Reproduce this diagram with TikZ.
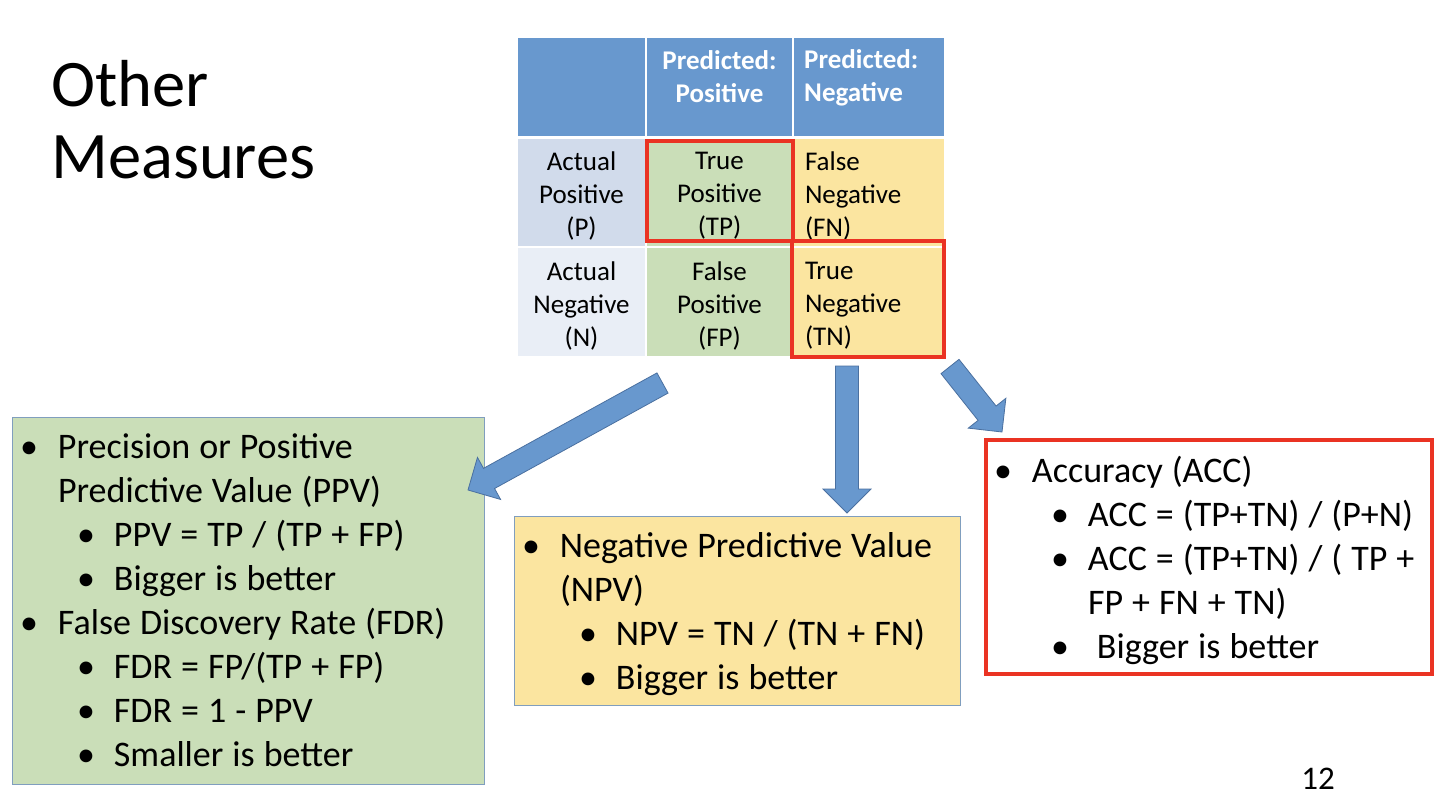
\documentclass[tikz,border=0pt]{standalone}
\usepackage{fontspec}
\setmainfont{Carlito}
\usetikzlibrary{calc}

\definecolor{hdrblue}{RGB}{104,152,206}
\definecolor{aposfill}{RGB}{209,219,235}
\definecolor{anegfill}{RGB}{233,238,246}
\definecolor{cellgreen}{RGB}{202,222,184}
\definecolor{cellyellow}{RGB}{251,229,160}
\definecolor{hired}{RGB}{234,51,35}
\definecolor{boxedge}{RGB}{128,158,190}
\definecolor{arrowedge}{RGB}{74,112,160}

\tikzset{
  hcell/.style={fill=hdrblue, inner sep=0pt, minimum height=98pt},
  htext/.style={text=white, inner sep=0pt, font=\bfseries\fontsize{27}{33}\selectfont},
  cell/.style={inner sep=0pt},
  celltext/.style={inner sep=0pt, font=\fontsize{27}{33}\selectfont},
  hilite/.style={draw=hired, line width=3.5pt},
  listbox/.style={draw=boxedge, line width=1pt, inner sep=0pt},
  listtext/.style={inner xsep=12pt, inner ysep=0pt, font=\fontsize{36}{44}\selectfont},
  arrowfill/.style={fill=hdrblue, draw=arrowedge, line width=0.8pt, line join=miter}
}

% bullet levels
\newcommand\lvla{\par\spaceskip=9pt plus 1pt minus 1pt\relax
  \hangindent=34pt\hangafter=1\noindent\hspace*{5pt}\makebox[0pt]{\textbullet}\hspace*{29pt}\ignorespaces}
\newcommand\lvlb{\par\spaceskip=9pt plus 1pt minus 1pt\relax
  \hangindent=90pt\hangafter=1\noindent\hspace*{62pt}\makebox[0pt]{\textbullet}\hspace*{28pt}\ignorespaces}

% block arrow from tail to tip
\newcommand\blockarrow[2]{%
  \coordinate (#1-hb) at ($(#2)!24pt!(#1)$);
  \filldraw[arrowfill] ($(#1)!11.5pt!90:(#2)$) -- ($(#1-hb)!11.5pt!90:(#2)$)
    -- ($(#1-hb)!24pt!90:(#2)$) -- (#2) -- ($(#1-hb)!24pt!-90:(#2)$)
    -- ($(#1-hb)!11.5pt!-90:(#2)$) -- ($(#1)!11.5pt!-90:(#2)$) -- cycle;}

\begin{document}
\begin{tikzpicture}[x=1pt,y=-1pt]
  \useasboundingbox[fill=white] (0,0) rectangle (1444,806);

  \node[anchor=west, inner sep=0pt, align=left, font=\fontsize{66.5}{72}\selectfont] (title) at (51,120) {Other\\Measures};

  % confusion matrix
  \node[hcell, minimum width=127pt] (corner) at (581.5,87) {};
  \node[hcell, minimum width=145pt] (hpos) at (719.5,87) {};
  \node[hcell, minimum width=150pt] (hneg) at (869,87) {};
  \node[htext, align=center] (hpostxt) at (719.5,76.5) {Predicted:\\Positive};
  \node[htext, align=left, anchor=west] (hnegtxt) at (804,78) {Predicted:\\Negative};

  \node[cell, fill=aposfill, minimum width=127pt, minimum height=107pt] (apos) at (581.5,192.5) {};
  \node[cell, fill=cellgreen, minimum width=145pt, minimum height=107pt] (tp) at (719.5,192.5) {};
  \node[cell, fill=cellyellow, minimum width=150pt, minimum height=107pt] (fn) at (869,192.5) {};
  \node[cell, fill=anegfill, minimum width=127pt, minimum height=108pt] (aneg) at (581.5,302) {};
  \node[cell, fill=cellgreen, minimum width=145pt, minimum height=108pt] (fp) at (719.5,302) {};
  \node[cell, fill=cellyellow, minimum width=150pt, minimum height=108pt] (tn) at (869,302) {};

  \node[celltext, align=center] (apostxt) at ([yshift=-3pt]apos.center) {Actual\\Positive\\(P)};
  \node[celltext, align=center] (tptxt) at ([yshift=-3pt]tp.center) {True\\Positive\\(TP)};
  \node[celltext, align=left, anchor=west] (fntxt) at ([xshift=11pt,yshift=-3pt]fn.west) {False\\Negative\\(FN)};
  \node[celltext, align=center] (anegtxt) at ([yshift=-3.5pt]aneg.center) {Actual\\Negative\\(N)};
  \node[celltext, align=center] (fptxt) at ([yshift=-3.5pt]fp.center) {False\\Positive\\(FP)};
  \node[celltext, align=left, anchor=west] (tntxt) at ([xshift=11pt,yshift=-3.5pt]tn.west) {True\\Negative\\(TN)};

  \draw[hilite] (647,141) rectangle (793,241);
  \draw[hilite] (792,241) rectangle (944,357);

  % measure boxes
  \node[listbox, fill=cellgreen, minimum width=472pt, minimum height=367pt] (ppvbox) at (248,600.5) {};
  \node[listtext, text width=448pt] (ppvtxt) at ([yshift=10pt]ppvbox.center) {%
    \lvla Precision or Positive\newline Predictive Value (PPV)
    \lvlb PPV = TP / (TP + FP)
    \lvlb Bigger is better
    \lvla False Discovery Rate (FDR)
    \lvlb FDR = FP/(TP + FP)
    \lvlb FDR = 1 - PPV
    \lvlb Smaller is better\par};

  \node[listbox, fill=cellyellow, minimum width=446pt, minimum height=189pt] (npvbox) at (737,610.5) {};
  \node[listtext, text width=422pt] (npvtxt) at ([yshift=6pt]npvbox.center) {%
    \lvla Negative Predictive Value\newline (NPV)
    \lvlb NPV = TN / (TN + FN)
    \lvlb Bigger is better\par};

  \node[listbox, draw=hired, line width=3.5pt, fill=white, minimum width=446pt, minimum height=234pt] (accbox) at (1209,557) {};
  \node[listtext, text width=422pt] (acctxt) at ([yshift=5pt]accbox.center) {%
    \lvla Accuracy (ACC)
    \lvlb \mbox{ACC = (TP+TN) / (P+N)}
    \lvlb \mbox{ACC = (TP+TN) / ( TP +}\newline FP + FN + TN)
    \lvlb \hspace*{9pt}Bigger is better\par};

  % arrows
  \coordinate (ppvfrom) at (662.5,383);
  \coordinate (ppvto) at (468,490);
  \coordinate (npvfrom) at (847,366);
  \coordinate (npvto) at (847,513);
  \coordinate (accfrom) at (950,366.5);
  \coordinate (accto) at (1002,432);
  \blockarrow{ppvfrom}{ppvto}
  \blockarrow{npvfrom}{npvto}
  \blockarrow{accfrom}{accto}

  \node[font=\fontsize{33}{40}\selectfont] (pagenum) at (1318,779) {12};
\end{tikzpicture}
\end{document}
